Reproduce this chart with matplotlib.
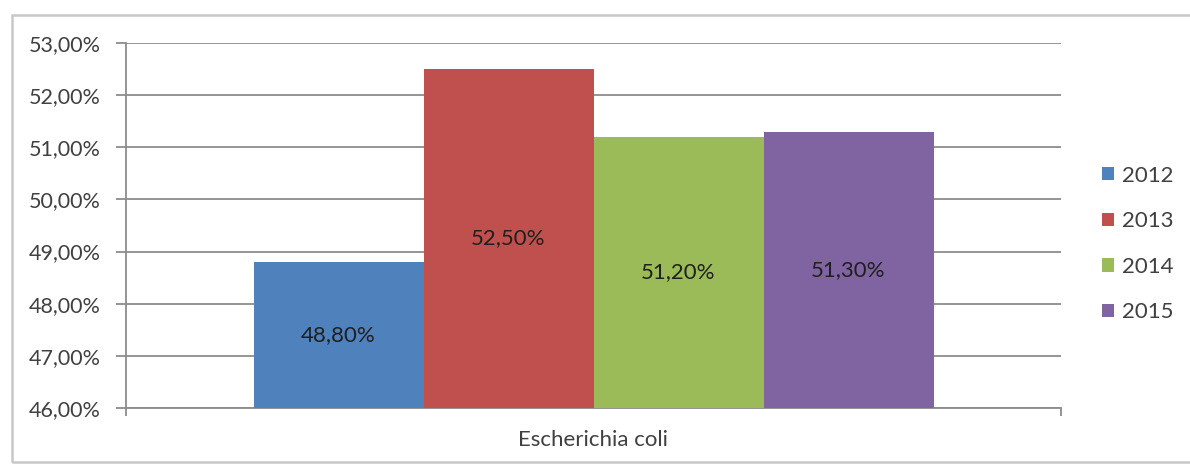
import matplotlib
matplotlib.use("Agg")
import matplotlib.pyplot as plt
from matplotlib.patches import Rectangle
from matplotlib.ticker import FuncFormatter

category = "Escherichia coli"
years = ["2012", "2013", "2014", "2015"]
values = [48.80, 52.50, 51.20, 51.30]
colors = ["#4F81BD", "#C0504D", "#9BBB59", "#8064A2"]
y_min, y_max = 46.0, 53.0

plt.rcParams['font.family'] = ['Lato', 'DejaVu Sans']

fig = plt.figure(figsize=(11.9, 4.65), dpi=100)
ax = fig.add_axes([126/1190, 1-408/465, (1061-126)/1190, (408-43)/465])

bar_w = 170/935
n = len(values)
for i, (yr, v, c) in enumerate(zip(years, values, colors)):
    x = (i - (n-1)/2) * bar_w
    ax.bar(x, v - y_min, bottom=y_min, width=bar_w, color=c, label=yr, zorder=3)
    ax.text(x, (v + y_min)/2, f"{v:.2f}%".replace(".", ","), ha="center", va="center",
            fontsize=16, color="#1f1f1f", zorder=4)

ax.set_xlim(-0.5, 0.5)
ax.set_ylim(y_min, y_max)
ax.set_yticks([46, 47, 48, 49, 50, 51, 52, 53])
ax.yaxis.set_major_formatter(FuncFormatter(lambda v, p: f"{v:.2f}%".replace(".", ",")))
ax.grid(axis="y", color="#8c8c8c", linewidth=1.3, zorder=0)
ax.set_axisbelow(True)

ax.set_xticks([0])
ax.set_xticklabels([category])
ax.set_xticks([-0.5, 0.5], minor=True)
ax.tick_params(axis="x", which="major", length=0, pad=16, labelsize=16, labelcolor="#404040")
ax.tick_params(axis="x", which="minor", length=6, color="#8c8c8c", width=1.3)
ax.tick_params(axis="y", length=7, color="#8c8c8c", width=1.3, labelsize=15.5,
               labelcolor="#404040", pad=11)

for s in ["top", "right"]:
    ax.spines[s].set_visible(False)
for s in ["left", "bottom"]:
    ax.spines[s].set_color("#8c8c8c")
    ax.spines[s].set_linewidth(1.3)

leg = ax.legend(loc="center left", bbox_to_anchor=(1082/1190, 1-244/465),
                bbox_transform=fig.transFigure, frameon=False, fontsize=16,
                handlelength=0.55, handleheight=0.55, handletextpad=0.35,
                labelspacing=1.15)
for t in leg.get_texts():
    t.set_color("#404040")

fig.patches.append(Rectangle((12/1190, 3/465), 1.2, 1-18/465, transform=fig.transFigure,
                             fill=False, edgecolor="#c8c8c8", linewidth=1.8, zorder=0))

fig.savefig("out.png", dpi=100)
